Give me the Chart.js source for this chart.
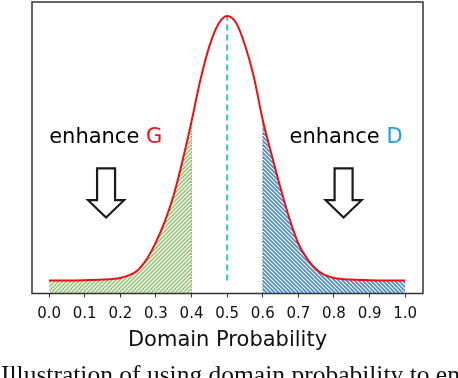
<!DOCTYPE html>
<html>
<head>
<meta charset="utf-8">
<script src="https://cdn.jsdelivr.net/npm/chart.js@4.4.1/dist/chart.umd.min.js"></script>
<style>
  html, body { margin: 0; padding: 0; background: #fff; overflow: hidden; }
  #wrap { position: relative; width: 458px; height: 378px; overflow: hidden; }
  #caption {
    position: absolute; left: 1px; top: 362px;
    font: 25.5px/25px "Liberation Serif", serif; color: #111;
    white-space: nowrap;
  }
</style>
</head>
<body>
<div id="wrap">
  <canvas id="chart" width="458" height="378"></canvas>
  <div id="caption">Illustration of using domain probability to enhance G and D.</div>
</div>
<script>
// curve
const probX = [0.0, 0.05, 0.1, 0.15, 0.2, 0.225, 0.25, 0.275, 0.3, 0.325, 0.35, 0.375, 0.4, 0.425, 0.45, 0.475, 0.5,
               0.525, 0.55, 0.575, 0.6, 0.625, 0.65, 0.675, 0.7, 0.725, 0.75, 0.775, 0.8, 0.85, 0.9, 0.95, 1.0];
const density = [0.047, 0.047, 0.048, 0.05, 0.056, 0.066, 0.085, 0.125, 0.185, 0.26, 0.355, 0.48, 0.62, 0.77, 0.89, 0.97, 1.0,
                 0.975, 0.895, 0.78, 0.625, 0.5, 0.38, 0.27, 0.18, 0.125, 0.087, 0.066, 0.056, 0.05, 0.048, 0.047, 0.047];
const tickValues = [0.0, 0.1, 0.2, 0.3, 0.4, 0.5, 0.6, 0.7, 0.8, 0.9, 1.0];
const regionG = [0.0, 0.4];
const regionD = [0.6, 1.0];
const centerLine = [0.5, 0.047, 1.0];   // x, from y, to y

// annotations (data units)
const labelPos = [[0.159, 0.56], [0.834, 0.56]];
const labelWord = ['enhance ', 'enhance '];
const labelLetter = ['G', 'D'];
const labelColor = ['#e8141a', '#1ba1e2'];
const arrowX = [0.16, 0.827];
const arrowY = [0.451, 0.336, 0.274];   // shaft top, head base, tip

const pts = probX.map((x, i) => ({ x: x, y: density[i] }));
const inRange = r => pts.filter(p => p.x >= r[0] - 1e-9 && p.x <= r[1] + 1e-9);
const yAt = x => density[probX.findIndex(v => Math.abs(v - x) < 1e-9)];

function hatch(bg, fg, lw, dir) {
  const s = 4;
  const c = document.createElement('canvas');
  c.width = s; c.height = s;
  const g = c.getContext('2d');
  g.fillStyle = bg; g.fillRect(0, 0, s, s);
  g.strokeStyle = fg; g.lineWidth = lw;
  g.beginPath();
  if (dir === '/') {
    g.moveTo(-1, s + 1); g.lineTo(s + 1, -1);
    g.moveTo(-1, 1); g.lineTo(1, -1);
    g.moveTo(s - 1, s + 1); g.lineTo(s + 1, s - 1);
  } else {
    g.moveTo(-1, -1); g.lineTo(s + 1, s + 1);
    g.moveTo(-1, s - 1); g.lineTo(1, s + 1);
    g.moveTo(s - 1, -1); g.lineTo(s + 1, 1);
  }
  g.stroke();
  return g.createPattern(c, 'repeat');
}
const ctx = document.getElementById('chart').getContext('2d');
const greenHatch = hatch('#ffffff', '#9cc67e', 1.6, '/');
const blueHatch = hatch('#4a8ad2', '#ffffff', 1.2, '\\');

const extras = {
  id: 'extras',
  afterDraw(chart) {
    const { ctx, chartArea: a, scales: { x, y } } = chart;
    ctx.save();
    // frame
    ctx.strokeStyle = '#333';
    ctx.lineWidth = 1.5;
    ctx.strokeRect(a.left, a.top, a.right - a.left, a.bottom - a.top);
    // labels
    ctx.font = '21px "DejaVu Sans"';
    ctx.textBaseline = 'middle';
    labelPos.forEach((p, i) => {
      const w1 = ctx.measureText(labelWord[i]).width;
      const w2 = ctx.measureText(labelLetter[i]).width;
      const left = x.getPixelForValue(p[0]) - (w1 + w2) / 2;
      const py = y.getPixelForValue(p[1]);
      ctx.textAlign = 'left';
      ctx.fillStyle = '#000';
      ctx.fillText(labelWord[i], left, py);
      ctx.fillStyle = labelColor[i];
      ctx.fillText(labelLetter[i], left + w1, py);
    });
    // hollow arrows
    ctx.strokeStyle = '#1a1a1a';
    ctx.lineWidth = 2.2;
    ctx.lineJoin = 'miter';
    arrowX.forEach(ax => {
      const cx = x.getPixelForValue(ax);
      const t = y.getPixelForValue(arrowY[0]);
      const hb = y.getPixelForValue(arrowY[1]);
      const tip = y.getPixelForValue(arrowY[2]);
      ctx.beginPath();
      ctx.moveTo(cx - 9, t); ctx.lineTo(cx + 9, t); ctx.lineTo(cx + 9, hb);
      ctx.lineTo(cx + 18, hb); ctx.lineTo(cx, tip); ctx.lineTo(cx - 18, hb);
      ctx.lineTo(cx - 9, hb); ctx.closePath();
      ctx.fillStyle = '#fff';
      ctx.fill();
      ctx.stroke();
    });
    ctx.restore();
  }
};

new Chart(ctx, {
  type: 'line',
  data: {
    datasets: [
      {
        data: pts, borderColor: '#f01010', borderWidth: 2, pointRadius: 0,
        cubicInterpolationMode: 'monotone', fill: false, order: 0
      },
      {
        data: inRange(regionG), borderWidth: 0, pointRadius: 0, borderColor: 'rgba(0,0,0,0)',
        cubicInterpolationMode: 'monotone', fill: 'origin', backgroundColor: greenHatch, order: 3
      },
      {
        data: inRange(regionD), borderWidth: 0, pointRadius: 0, borderColor: 'rgba(0,0,0,0)',
        cubicInterpolationMode: 'monotone', fill: 'origin', backgroundColor: blueHatch, order: 3
      },
      {
        data: [{ x: centerLine[0], y: centerLine[1] }, { x: centerLine[0], y: centerLine[2] }],
        borderColor: '#2ec8c8', borderWidth: 2, borderDash: [6, 4], pointRadius: 0, fill: false, order: 1
      },
      {
        data: [{ x: regionG[1], y: 0 }, { x: regionG[1], y: yAt(regionG[1]) }],
        borderColor: '#555', borderWidth: 1, borderDash: [1, 2], pointRadius: 0, fill: false, order: 2
      },
      {
        data: [{ x: regionD[0], y: 0 }, { x: regionD[0], y: yAt(regionD[0]) }],
        borderColor: '#333', borderWidth: 1, borderDash: [1, 2], pointRadius: 0, fill: false, order: 2
      }
    ]
  },
  options: {
    responsive: false,
    animation: false,
    layout: { padding: { left: 32, right: 35, top: 2, bottom: 27 } },
    plugins: { legend: { display: false }, tooltip: { enabled: false } },
    scales: {
      x: {
        type: 'linear', min: -0.048, max: 1.05,
        afterBuildTicks: s => { s.ticks = tickValues.map(v => ({ value: v })); },
        grid: { drawOnChartArea: false, tickLength: 4, color: '#333', tickWidth: 1 },
        border: { display: false },
        ticks: {
          callback: v => v.toFixed(1), color: '#111', padding: 8, maxRotation: 0, autoSkip: false,
          font: { family: '"DejaVu Sans"', size: 15, lineHeight: 1.1 }
        },
        title: {
          display: true, text: 'Domain Probability', color: '#111',
          font: { family: '"DejaVu Sans"', size: 21, lineHeight: 1 }, padding: { top: 0, bottom: 0 }
        }
      },
      y: { min: 0, max: 1.05, display: false }
    }
  },
  plugins: [extras]
});
</script>
</body>
</html>
